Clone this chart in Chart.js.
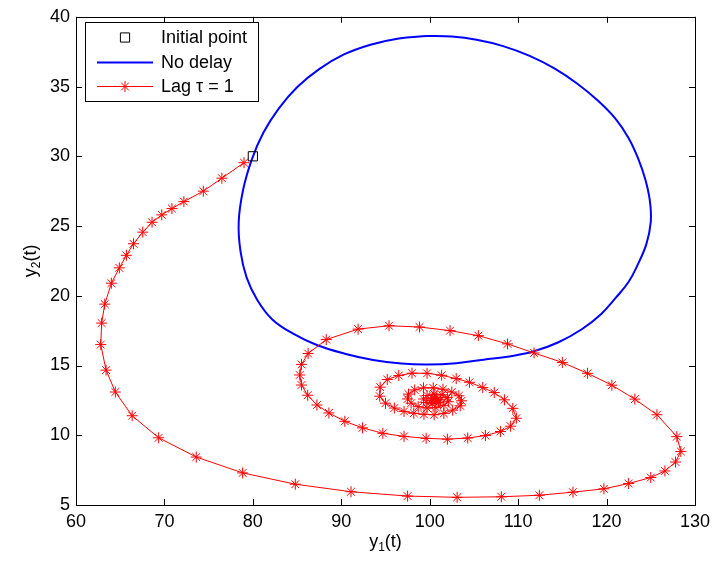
<!DOCTYPE html>
<html lang="en">
<head>
<meta charset="UTF-8">
<title>Phase plane: no delay vs lag</title>
<script src="https://cdn.jsdelivr.net/npm/chart.js"></script>
<style>
  html, body { margin: 0; padding: 0; background: #fff; }
  #wrap { width: 716px; height: 567px; }
</style>
</head>
<body>
<div id="wrap"><canvas id="phase" width="716" height="567"></canvas></div>
<script>
const xTicks = [60, 70, 80, 90, 100, 110, 120, 130];
const yTicks = [5, 10, 15, 20, 25, 30, 35, 40];

const initX = [80];
const initY = [30];

// limit cycle without delay (closed loop)
const noDelayX = [99.7, 96.5, 93.3, 90.3, 87.5, 85.0, 82.9, 81.2, 79.9, 78.9, 78.4, 78.6, 79.3, 80.5, 82.2, 84.5,
  87.3, 90.4, 93.6, 96.8, 99.7, 103.0, 106.1, 109.0, 111.7, 114.5, 117.2, 119.4, 121.1, 122.5, 123.5, 124.5,
  125.0, 124.9, 124.4, 123.6, 122.5, 121.0, 119.0, 116.7, 114.1, 111.3, 108.3, 105.3, 102.5, 99.7];
const noDelayY = [38.63, 38.45, 38.0, 37.3, 36.25, 34.95, 33.4, 31.7, 29.8, 27.6, 25.3, 23.2, 21.3, 19.7, 18.3, 17.3,
  16.45, 15.85, 15.4, 15.15, 15.08, 15.17, 15.42, 15.65, 16.0, 16.65, 17.6, 18.7, 19.9, 21.0, 22.2, 23.7,
  25.3, 26.8, 28.3, 29.8, 31.3, 32.7, 34.0, 35.2, 36.3, 37.2, 37.9, 38.35, 38.58, 38.63];

// delayed solution, tau = 1 (marker positions)
const lagX = [79.0, 76.5, 74.4, 72.2, 70.85, 69.7, 68.6, 67.55, 66.5, 65.7, 64.9, 64.0, 63.25, 62.9, 62.8, 63.4,
  64.45, 66.35, 69.35, 73.6, 78.85, 84.8, 91.1, 97.5, 103.1, 108.1, 112.4, 116.2, 119.7, 122.5, 125.0, 126.6,
  127.8, 128.4, 127.95, 125.7, 123.2, 120.6, 117.85, 115.0, 111.8, 108.8, 105.5, 102.3, 98.85, 95.4, 91.9, 88.3,
  86.25, 85.5, 85.3, 85.5, 86.2, 87.25, 88.6, 90.4, 92.4, 94.7, 97.1, 99.6, 102.0, 104.3, 106.3, 108.0,
  109.15, 109.8, 109.4, 108.45, 107.3, 106.0, 104.5, 103.0, 101.35, 99.7, 98.0, 96.5, 95.2, 94.4, 94.35, 95.0,
  96.0, 97.1, 98.2, 99.35, 100.5, 101.6, 102.6, 103.45, 103.6, 103.3, 102.5, 101.5, 100.4, 99.3, 98.3, 97.6,
  97.5, 97.9, 98.7, 99.7, 100.7, 101.6, 102.1, 102.0, 101.4, 100.5, 99.7, 99.3, 99.6, 100.3, 101.0, 101.2,
  100.8, 100.3, 100.2, 100.6, 100.8];
const lagY = [29.54, 28.43, 27.5, 26.75, 26.25, 25.8, 25.27, 24.56, 23.73, 22.9, 22.0, 20.9, 19.4, 18.04, 16.5, 14.67,
  13.1, 11.4, 9.82, 8.44, 7.3, 6.49, 5.95, 5.64, 5.55, 5.59, 5.7, 5.92, 6.16, 6.54, 6.97, 7.44,
  8.08, 8.84, 9.9, 11.47, 12.59, 13.59, 14.44, 15.22, 15.9, 16.55, 17.14, 17.5, 17.76, 17.85, 17.61, 16.86,
  15.86, 15.08, 14.32, 13.6, 12.87, 12.17, 11.6, 11.0, 10.53, 10.14, 9.92, 9.78, 9.72, 9.8, 9.98, 10.27,
  10.65, 11.22, 11.93, 12.54, 13.06, 13.42, 13.8, 14.06, 14.3, 14.44, 14.45, 14.28, 14.0, 13.45, 12.8, 12.3,
  11.95, 11.71, 11.58, 11.5, 11.47, 11.57, 11.8, 12.11, 12.47, 12.83, 13.1, 13.3, 13.4, 13.4, 13.25, 12.95,
  12.6, 12.3, 12.05, 11.95, 11.98, 12.15, 12.4, 12.7, 12.9, 12.95, 12.85, 12.6, 12.35, 12.25, 12.35, 12.55,
  12.7, 12.65, 12.5, 12.45, 12.55];

const legendLabels = ["Initial point", "No delay", "Lag \u03c4 = 1"];

const FONT = "'Liberation Sans', Arial, Helvetica, sans-serif";

function pts(xs, ys) {
  return xs.map((x, i) => ({ x: x, y: ys[i] }));
}

// MATLAB-like box with inward ticks on all four sides
const boxPlugin = {
  id: 'matlabBox',
  afterDatasetsDraw(chart) {
    const ctx = chart.ctx;
    const a = chart.chartArea;
    const sx = chart.scales.x, sy = chart.scales.y;
    const tl = 6;
    ctx.save();
    ctx.strokeStyle = '#000';
    ctx.lineWidth = 1;
    ctx.strokeRect(Math.round(a.left) + 0.5, Math.round(a.top) + 0.5,
      Math.round(a.right - a.left), Math.round(a.bottom - a.top));
    ctx.beginPath();
    xTicks.forEach(v => {
      const px = Math.round(sx.getPixelForValue(v)) + 0.5;
      ctx.moveTo(px, a.bottom); ctx.lineTo(px, a.bottom - tl);
      ctx.moveTo(px, a.top); ctx.lineTo(px, a.top + tl);
    });
    yTicks.forEach(v => {
      const py = Math.round(sy.getPixelForValue(v)) + 0.5;
      ctx.moveTo(a.left, py); ctx.lineTo(a.left + tl, py);
      ctx.moveTo(a.right, py); ctx.lineTo(a.right - tl, py);
    });
    ctx.stroke();
    ctx.restore();
  }
};

// legend box in the top-left corner of the axes
const legendPlugin = {
  id: 'matlabLegend',
  afterDraw(chart) {
    const ctx = chart.ctx;
    const ds = chart.data.datasets;
    const bx = 85, by = 22, bw = 173, bh = 79;
    ctx.save();
    ctx.fillStyle = '#fff';
    ctx.fillRect(bx, by, bw, bh);
    ctx.strokeStyle = '#000';
    ctx.lineWidth = 1;
    ctx.strokeRect(bx + 0.5, by + 0.5, bw, bh);
    ctx.font = '18px ' + FONT;
    ctx.textBaseline = 'middle';
    ctx.textAlign = 'left';
    const rows = [37, 62, 86];
    legendLabels.forEach((label, i) => {
      const d = ds[i];
      const cy = rows[i];
      if (d.showLine !== false) {
        ctx.strokeStyle = d.borderColor;
        ctx.lineWidth = d.borderWidth;
        ctx.beginPath();
        ctx.moveTo(97, cy + 0.5);
        ctx.lineTo(153, cy + 0.5);
        ctx.stroke();
      }
      if (d.pointRadius > 0) {
        ctx.strokeStyle = d.pointBorderColor;
        ctx.fillStyle = 'rgba(0,0,0,0)';
        ctx.lineWidth = d.pointBorderWidth;
        Chart.helpers.drawPoint(ctx, {
          pointStyle: d.pointStyle, radius: d.pointRadius, rotation: 0, borderWidth: d.pointBorderWidth
        }, 125, cy + 0.5);
      }
      ctx.fillStyle = '#000';
      ctx.fillText(label, 161, cy + 1);
    });
    ctx.restore();
  }
};

// axis titles with subscripts: y1(t), y2(t)
function subLabel(ctx, base, sub, rest) {
  ctx.font = '18px ' + FONT;
  const w1 = ctx.measureText(base).width;
  const w3 = ctx.measureText(rest).width;
  ctx.font = '12px ' + FONT;
  const w2 = ctx.measureText(sub).width;
  const total = w1 + w2 + w3;
  let x = -total / 2;
  ctx.textAlign = 'left';
  ctx.textBaseline = 'alphabetic';
  ctx.fillStyle = '#000';
  ctx.font = '18px ' + FONT;
  ctx.fillText(base, x, 0); x += w1;
  ctx.font = '12px ' + FONT;
  ctx.fillText(sub, x, 4); x += w2;
  ctx.font = '18px ' + FONT;
  ctx.fillText(rest, x, 0);
}

const titlePlugin = {
  id: 'axisTitles',
  afterDraw(chart) {
    const ctx = chart.ctx;
    const a = chart.chartArea;
    ctx.save();
    ctx.translate((a.left + a.right) / 2, 547);
    subLabel(ctx, 'y', '1', '(t)');
    ctx.restore();
    ctx.save();
    ctx.translate(36, (a.top + a.bottom) / 2);
    ctx.rotate(-Math.PI / 2);
    subLabel(ctx, 'y', '2', '(t)');
    ctx.restore();
  }
};

new Chart(document.getElementById('phase'), {
  type: 'scatter',
  data: {
    datasets: [
      {
        label: legendLabels[0],
        data: pts(initX, initY),
        showLine: false,
        pointStyle: 'rect',
        pointRadius: 6.5,
        pointBorderColor: '#000',
        pointBackgroundColor: 'rgba(0,0,0,0)',
        pointBorderWidth: 1,
        borderColor: '#000',
        borderWidth: 1,
        order: 0
      },
      {
        label: legendLabels[1],
        data: pts(noDelayX, noDelayY),
        showLine: true,
        borderColor: '#0000ff',
        borderWidth: 2,
        tension: 0.4,
        pointRadius: 0,
        pointBorderWidth: 0,
        order: 2
      },
      {
        label: legendLabels[2],
        data: pts(lagX, lagY),
        showLine: true,
        borderColor: '#ff0000',
        borderWidth: 1,
        tension: 0,
        pointStyle: 'star',
        pointRadius: 5.5,
        pointBorderColor: '#ff0000',
        pointBackgroundColor: 'rgba(0,0,0,0)',
        pointBorderWidth: 1,
        order: 1
      }
    ]
  },
  options: {
    responsive: false,
    animation: false,
    layout: { padding: { top: 13, right: 16, left: 0, bottom: 0 } },
    plugins: {
      legend: { display: false },
      tooltip: { enabled: false }
    },
    scales: {
      x: {
        type: 'linear',
        min: 60, max: 130,
        grid: { display: false, drawTicks: false },
        border: { display: false },
        afterBuildTicks: s => { s.ticks = xTicks.map(v => ({ value: v })); },
        afterFit: s => { s.height = 62; },
        ticks: { color: '#000', padding: 6, maxRotation: 0, font: { family: FONT, size: 18 } }
      },
      y: {
        type: 'linear',
        min: 5, max: 40,
        grid: { display: false, drawTicks: false },
        border: { display: false },
        afterBuildTicks: s => { s.ticks = yTicks.map(v => ({ value: v })); },
        afterFit: s => { s.width = 76; },
        ticks: { color: '#000', padding: 6, font: { family: FONT, size: 18 } }
      }
    }
  },
  plugins: [boxPlugin, legendPlugin, titlePlugin]
});
</script>
</body>
</html>
